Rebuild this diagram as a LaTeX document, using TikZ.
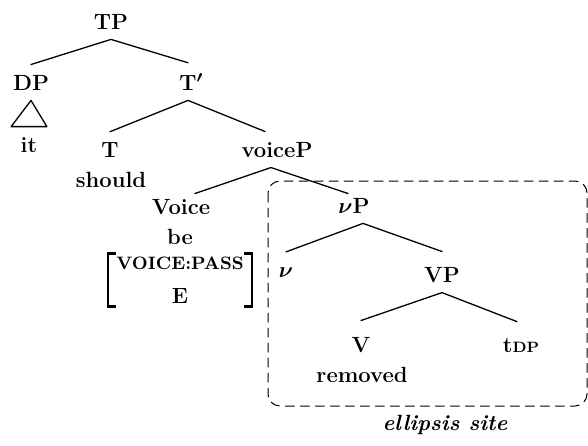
\documentclass[tikz,border=0pt]{standalone}
\usepackage{bm}
\begin{document}
\begin{tikzpicture}[x=0.5pt, y=-0.5pt, line join=round, line cap=round,
	font=\fontsize{11}{13}\selectfont\bfseries,
	cat/.style={inner xsep=0pt, inner ysep=5pt, anchor=base},
	word/.style={inner sep=0pt, anchor=base},
	branch/.style={line width=0.65pt},
	brk/.style={line width=1.4pt, line cap=butt, line join=miter},
	site/.style={dash pattern=on 4.5pt off 3pt, line width=0.5pt, rounded corners=6pt}]
	\useasboundingbox (0,0) rectangle (588,445);
	% labels
	\node[cat] (tp) at (111,29) {TP};
	\node[cat] (dp) at (31,90) {DP};
	\node[cat] (tbar) at (188,90) {T\rlap{$^{\bm{\prime}}$}};
	\node[cat, minimum width=17.5pt] (it) at (29,152) {it};
	\node[cat] (t) at (110,157) {T};
	\node[word] (should) at (111,187) {should};
	\node[cat] (voicep) at (277,157) {voiceP};
	\node[cat] (voice) at (181,214) {Voice};
	\node[word] (be) at (180,244) {be};
	\node[word, inner xsep=4pt, inner ysep=1.5pt] (feat) at (180,303)
		{\shortstack{{\fontsize{9}{10}\selectfont VOICE:PASS}\\[6pt]E}};
	\node[cat] (nup) at (354,213) {$\bm{\nu}$P};
	\node[cat] (nu) at (286,277) {$\bm{\nu}$};
	\node[cat] (vp) at (442,282) {VP};
	\node[cat] (v) at (361,352) {V};
	\node[word] (removed) at (362,382) {removed};
	\node[cat] (tdp) at (521,352) {t{\fontsize{7.5}{9}\selectfont DP}};
	\node[word] (elsite) at (445,430) {\itshape ellipsis site};
	% branches
	\draw[branch]
	(tp.south) -- (dp.north)
	(tp.south) -- (tbar.north)
	(dp.south) -- (it.north west) -- (it.north east) -- cycle
	(tbar.south) -- (t.north)
	(tbar.south) -- ([xshift=-6pt]voicep.north)
	([xshift=-3pt]voicep.south) -- ([xshift=7pt, yshift=-2.5pt]voice.north)
	([xshift=-3pt]voicep.south) -- ([xshift=-3pt, yshift=-3pt]nup.north)
	([xshift=4.5pt]nup.south) -- ([yshift=2.5pt]nu.north)
	([xshift=4.5pt]nup.south) -- ([yshift=2.5pt]vp.north)
	(vp.south) -- ([yshift=3pt]v.north)
	(vp.south) -- ([xshift=-2pt, yshift=3pt]tdp.north);
	% feature brackets
	\draw[brk] ([xshift=4pt]feat.north west) -| (feat.south west) -- ++(4pt,0);
	\draw[brk] ([xshift=-4pt]feat.north east) -| (feat.south east) -- ++(-4pt,0);
	% ellipsis box
	\draw[site] (268,181) rectangle (587,406);
\end{tikzpicture}
\end{document}
